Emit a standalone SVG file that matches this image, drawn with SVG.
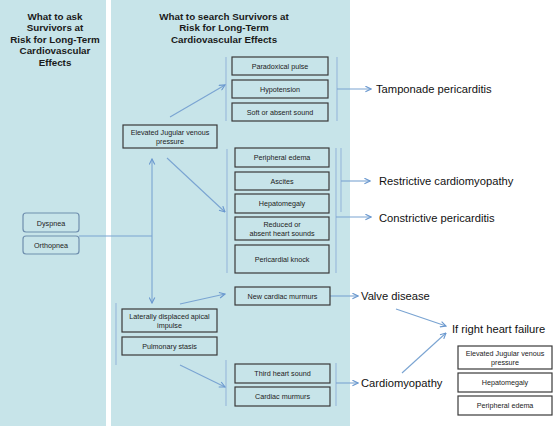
<svg xmlns="http://www.w3.org/2000/svg" width="553" height="426" viewBox="0 0 553 426">
<defs>
<style>
.panel{fill:#c7e4e9}
.title{font-family:"Liberation Sans",Arial,sans-serif;font-weight:bold;font-size:9.8px;fill:#1a1a1a;text-anchor:middle}
.box{fill:#c7e4e9;stroke:#3a3a3a;stroke-width:1.2}
.wbox{fill:#ffffff;stroke:#3a3a3a;stroke-width:1.2}
.rbox{fill:#c7e4e9;stroke:#6f8fae;stroke-width:1.2}
.bt{font-family:"Liberation Sans",Arial,sans-serif;font-size:7.2px;fill:#222;text-anchor:middle}
.out{font-family:"Liberation Sans",Arial,sans-serif;font-size:11.2px;fill:#111}
.ln{stroke:#7aa4d2;stroke-width:1.1;fill:none}
.brk{stroke:#9fbedd;stroke-width:1.3;fill:none}
</style>
<marker id="ah" viewBox="0 0 10 10" refX="9" refY="5" markerWidth="7" markerHeight="7" orient="auto-start-reverse" markerUnits="userSpaceOnUse">
<path d="M1,1 L9,5 L1,9" fill="none" stroke="#6a98cf" stroke-width="1.6"/>
</marker>
</defs>
<rect width="553" height="426" fill="#ffffff"/>
<rect class="panel" x="0" y="0" width="106" height="426"/>
<rect class="panel" x="111" y="0" width="239" height="426"/>

<g id="title-left">
<text class="title" x="55" y="19.5">What to ask</text>
<text class="title" x="55" y="31">Survivors at</text>
<text class="title" x="55" y="42.5">Risk for Long-Term</text>
<text class="title" x="55" y="54">Cardiovascular</text>
<text class="title" x="55" y="65.5">Effects</text>
</g>
<g id="title-right">
<text class="title" x="224" y="19.5">What to search Survivors at</text>
<text class="title" x="224" y="31">Risk for Long-Term</text>
<text class="title" x="224" y="42.5">Cardiovascular Effects</text>
</g>

<g id="connectors">
<line class="brk" x1="226" y1="57" x2="226" y2="121"/>
<line class="brk" x1="337" y1="57" x2="337" y2="121"/>
<line class="brk" x1="227" y1="149" x2="227" y2="273"/>
<line class="brk" x1="336" y1="148" x2="336" y2="273"/>
<line class="brk" x1="341" y1="148" x2="341" y2="212"/>
<line class="brk" x1="116" y1="303" x2="116" y2="365"/>
<line class="brk" x1="226" y1="360" x2="226" y2="406"/>
<line class="brk" x1="336" y1="363" x2="336" y2="406"/>
<line class="ln" x1="170" y1="117" x2="225" y2="85" marker-end="url(#ah)"/>
<line class="ln" x1="337" y1="89" x2="371" y2="89" marker-end="url(#ah)"/>
<line class="ln" x1="167" y1="158" x2="225" y2="212" marker-end="url(#ah)"/>
<line class="ln" x1="341" y1="181" x2="370" y2="181" marker-end="url(#ah)"/>
<line class="ln" x1="336" y1="217" x2="371" y2="217" marker-end="url(#ah)"/>
<line class="ln" x1="152" y1="159" x2="152" y2="303" marker-start="url(#ah)" marker-end="url(#ah)"/>
<line class="ln" x1="79" y1="236" x2="152" y2="236"/>
<line class="ln" x1="180" y1="304" x2="225" y2="294" marker-end="url(#ah)"/>
<line class="ln" x1="330" y1="296" x2="358" y2="296" marker-end="url(#ah)"/>
<line class="ln" x1="180" y1="365" x2="225" y2="387" marker-end="url(#ah)"/>
<line class="ln" x1="336" y1="383" x2="358" y2="383" marker-end="url(#ah)"/>
<line class="ln" x1="396" y1="309" x2="446" y2="326" marker-end="url(#ah)"/>
<line class="ln" x1="402" y1="373" x2="446" y2="333" marker-end="url(#ah)"/>
</g>

<g id="dyspnea"><rect class="rbox" x="23" y="213" width="56" height="19" rx="3"/><text class="bt" x="51" y="225.5">Dyspnea</text></g>
<g id="orthopnea"><rect class="rbox" x="23" y="236" width="56" height="18" rx="3"/><text class="bt" x="51" y="248">Orthopnea</text></g>

<g id="ejvp"><rect class="box" x="123" y="125" width="94" height="23"/><text class="bt" x="170" y="134.5">Elevated Jugular venous</text><text class="bt" x="170" y="144">pressure</text></g>

<g id="paradoxical"><rect class="box" x="232" y="57" width="96" height="18"/><text class="bt" x="280" y="68.5">Paradoxical pulse</text></g>
<g id="hypotension"><rect class="box" x="232" y="80" width="96" height="18"/><text class="bt" x="280" y="91.5">Hypotension</text></g>
<g id="soft-sound"><rect class="box" x="232" y="103" width="96" height="18"/><text class="bt" x="280" y="114.5">Soft or absent sound</text></g>

<g id="peripheral-edema"><rect class="box" x="235" y="148" width="94" height="19"/><text class="bt" x="282" y="160">Peripheral edema</text></g>
<g id="ascites"><rect class="box" x="235" y="172" width="94" height="18"/><text class="bt" x="282" y="183.5">Ascites</text></g>
<g id="hepatomegaly"><rect class="box" x="235" y="194" width="94" height="19"/><text class="bt" x="282" y="206">Hepatomegaly</text></g>
<g id="reduced"><rect class="box" x="235" y="217" width="94" height="23"/><text class="bt" x="282" y="226.5">Reduced or</text><text class="bt" x="282" y="236">absent heart sounds</text></g>
<g id="pericardial-knock"><rect class="box" x="235" y="245" width="94" height="28"/><text class="bt" x="282" y="261.5">Pericardial knock</text></g>

<g id="new-murmurs"><rect class="box" x="235" y="287" width="95" height="18"/><text class="bt" x="282.5" y="298.5">New cardiac murmurs</text></g>
<g id="lateral"><rect class="box" x="122" y="309" width="95" height="23"/><text class="bt" x="169.5" y="318.5">Laterally displaced apical</text><text class="bt" x="169.5" y="328">impulse</text></g>
<g id="pulmonary"><rect class="box" x="122" y="337" width="95" height="18"/><text class="bt" x="169.5" y="348.5">Pulmonary stasis</text></g>
<g id="third-sound"><rect class="box" x="235" y="364" width="95" height="19"/><text class="bt" x="282.5" y="376">Third heart sound</text></g>
<g id="cardiac-murmurs"><rect class="box" x="235" y="387" width="95" height="19"/><text class="bt" x="282.5" y="399">Cardiac murmurs</text></g>

<g id="tamponade"><text class="out" x="376" y="93">Tamponade pericarditis</text></g>
<g id="restrictive"><text class="out" x="379" y="185">Restrictive cardiomyopathy</text></g>
<g id="constrictive"><text class="out" x="379" y="222">Constrictive pericarditis</text></g>
<g id="valve"><text class="out" x="361" y="300">Valve disease</text></g>
<g id="cardiomyopathy"><text class="out" x="361" y="387">Cardiomyopathy</text></g>
<g id="right-hf"><text class="out" x="452" y="333">If right heart failure</text></g>

<g id="rhf-ejvp"><rect class="wbox" x="458" y="346" width="94" height="23"/><text class="bt" x="505" y="355.5">Elevated Jugular venous</text><text class="bt" x="505" y="365">pressure</text></g>
<g id="rhf-hepato"><rect class="wbox" x="458" y="373" width="94" height="19"/><text class="bt" x="505" y="385">Hepatomegaly</text></g>
<g id="rhf-edema"><rect class="wbox" x="458" y="396" width="94" height="19"/><text class="bt" x="505" y="408">Peripheral edema</text></g>
</svg>
